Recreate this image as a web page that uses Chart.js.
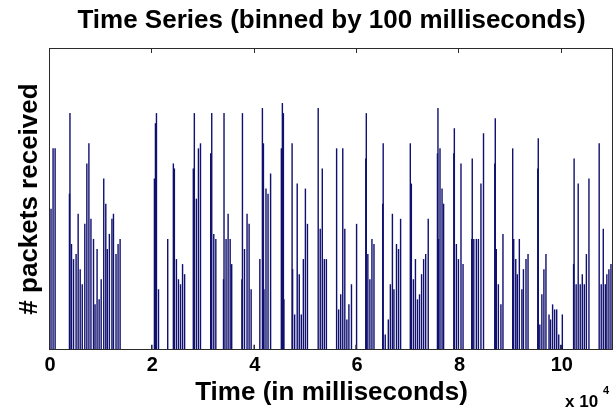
<!DOCTYPE html>
<html>
<head>
<meta charset="utf-8">
<script src="https://cdn.jsdelivr.net/npm/chart.js@4.4.1/dist/chart.umd.min.js"></script>
<style>
  html, body { margin: 0; padding: 0; background: #fff; }
  canvas { display: block; }
</style>
</head>
<body>
<canvas id="grafico" width="615" height="412"></canvas>
<script>
// Instante (ms) de cada bin não vazio, uma linha por rajada
var binTimes = [
    200, 600, 1000,
    3800, 3900, 4200, 4600, 5100, 5500, 5900, 6300, 6800, 7200, 7600, 8000, 8500, 8800, 9200, 9600, 10000, 10500, 10900, 11200, 11600, 12100, 12400, 12900, 13300, 13700,
    19900, 20400, 20600, 20800, 21200, 23000, 24100, 24300, 24700, 25100, 25500, 25900, 26300,
    28000, 28200, 28600, 29000, 29400,
    31400, 31600, 32000, 32400,
    33900, 34000, 34400, 34800, 35200, 35500,
    37500, 37600, 38000, 38500, 38900, 39300, 39900,
    41000, 41500, 41700, 41800, 42200, 42600, 43100,
    45200, 45400, 45600, 45700,
    47300, 47400, 47800, 48300, 48700, 49100, 49500, 49900, 50300,
    52400, 52800, 53200, 53600, 54000,
    56000, 56400, 56800, 57200, 57600, 58000, 58400, 58900, 59800, 59900,
    61700, 61800, 62100, 62500, 62900, 63300,
    65000, 65100, 65500, 66100, 66500, 66900, 67200, 67700, 68100, 68500,
    70400, 70600, 71000, 71400, 71800, 72200, 72600, 73000, 73400, 73900,
    75700, 75800, 75900, 76200, 76600, 76900,
    78900, 79000, 79400, 79800, 80300, 80700,
    82400, 82500, 82800, 83300, 83700, 84200, 84700,
    86900, 87000, 87200, 87600, 88100, 88500,
    90400, 90500, 90600, 91000, 91300, 91700, 92200, 92500, 93000, 93400,
    95300, 95400, 95700, 96100, 96500, 96900, 97500, 97800, 98200, 98600, 99000, 99400, 99800, 100100,
    102300, 102400, 102800, 103200, 103600, 104000, 104400, 104800, 105300,
    107300, 107700, 108100, 108500, 108800, 109200, 109600
];
// Pacotes recebidos em cada bin (mesma ordem)
var packetCounts = [
    28, 40, 40,
    31, 47, 21, 18, 19, 27, 16, 13, 25, 37, 41, 26, 22, 9, 20, 10, 14, 34, 29, 20, 23, 26, 27, 19, 21, 22,
    1, 34, 45, 47, 12, 22, 37, 36, 18, 14, 13, 17, 15,
    36, 47, 30, 40, 41,
    39, 47, 23, 22,
    14, 47, 22, 27, 22, 17,
    14, 47, 20, 27, 25, 12, 1,
    18, 48, 41, 12, 32, 31, 35,
    40, 49, 47, 10,
    41, 16, 7, 33, 15, 7, 18, 32, 25,
    48, 24, 36, 18, 18,
    40, 8, 11, 40, 24, 6, 9, 13, 1, 25,
    38, 47, 19, 14, 22, 21,
    29, 41, 3, 6, 13, 27, 12, 21, 20, 26,
    41, 33, 14, 18, 10, 11, 15, 18, 19, 26,
    39, 48, 22, 40, 32, 29,
    39, 44, 21, 18, 37, 17,
    22, 38, 22, 22, 22, 33, 43,
    37, 46, 20, 13, 9, 23,
    40, 14, 22, 18, 15, 22, 12, 16, 18, 19,
    36, 42, 5, 11, 16, 19, 7, 6, 9, 8, 8, 3, 1, 7,
    17, 38, 13, 33, 13, 15, 13, 19, 34,
    41, 13, 24, 13, 15, 16, 17
];
var xTickValues = [0, 20000, 40000, 60000, 80000, 100000];
var xTickLabels = ["0", "2", "4", "6", "8", "10"];
var xMax = 110000;
var yMax = 60;

var fonte = "'Liberation Sans', Arial, Helvetica, sans-serif";

var pontos = binTimes.map(function (t, i) {
    return { x: t, y: packetCounts[i] };
});

// Moldura estilo MATLAB, marcas internas e multiplicador do eixo x
var moldura = {
    id: "moldura",
    afterDatasetsDraw: function (chart) {
        var ctx = chart.ctx;
        var a = chart.chartArea;
        var sx = chart.scales.x;
        ctx.save();
        ctx.strokeStyle = "#2b2b2b";
        ctx.lineWidth = 1;
        ctx.strokeRect(Math.round(a.left) - 0.5, Math.round(a.top) + 0.5,
            Math.round(a.right - a.left), Math.round(a.bottom - a.top) - 1);
        xTickValues.forEach(function (v) {
            var px = Math.round(sx.getPixelForValue(v)) - 0.5;
            ctx.beginPath();
            ctx.moveTo(px, a.bottom);
            ctx.lineTo(px, a.bottom - 5);
            ctx.moveTo(px, a.top);
            ctx.lineTo(px, a.top + 5);
            ctx.stroke();
        });
        ctx.fillStyle = "#000";
        ctx.textAlign = "left";
        ctx.textBaseline = "alphabetic";
        ctx.font = "bold 17px " + fonte;
        ctx.fillText("x 10", a.right - 48, 407);
        ctx.font = "bold 11px " + fonte;
        ctx.fillText("4", a.right - 10, 394);
        ctx.restore();
    }
};

new Chart(document.getElementById("grafico"), {
    type: "bar",
    data: {
        datasets: [{
            data: pontos,
            backgroundColor: "#101070",
            borderWidth: 0,
            barThickness: 0.75
        }]
    },
    options: {
        responsive: false,
        animation: false,
        devicePixelRatio: 1,
        layout: { padding: { left: 0, right: 2, top: 0, bottom: 0 } },
        plugins: {
            legend: { display: false },
            tooltip: { enabled: false }
        },
        scales: {
            x: {
                type: "linear",
                position: "bottom",
                min: 0,
                max: xMax,
                offset: false,
                grid: { display: false, drawTicks: false },
                border: { display: false },
                afterBuildTicks: function (scale) {
                    scale.ticks = xTickValues.map(function (v) { return { value: v }; });
                },
                ticks: {
                    padding: 5,
                    color: "#000",
                    autoSkip: false,
                    maxRotation: 0,
                    font: { family: fonte, size: 20, weight: "bold", lineHeight: 1 },
                    callback: function (v) { return xTickLabels[xTickValues.indexOf(v)]; }
                },
                title: {
                    display: true,
                    text: "Time (in milliseconds)",
                    color: "#000",
                    font: { family: fonte, size: 26, weight: "bold", lineHeight: 1 },
                    padding: { top: 0, bottom: 6 }
                }
            },
            xTopo: {
                type: "linear",
                position: "top",
                min: 0,
                max: xMax,
                grid: { display: false, drawTicks: false },
                border: { display: false },
                ticks: { display: false },
                title: {
                    display: true,
                    text: "Time Series (binned by 100 milliseconds)",
                    color: "#000",
                    font: { family: fonte, size: 26, weight: "bold", lineHeight: 1 },
                    padding: { top: 8, bottom: 14 }
                }
            },
            y: {
                min: 0,
                max: yMax,
                grid: { display: false, drawTicks: false },
                border: { display: false },
                ticks: { display: false },
                title: {
                    display: true,
                    text: "# packets received",
                    color: "#000",
                    font: { family: fonte, size: 26, weight: "bold", lineHeight: 1 },
                    padding: { top: 17, bottom: 7 }
                }
            }
        }
    },
    plugins: [moldura]
});
</script>
</body>
</html>
